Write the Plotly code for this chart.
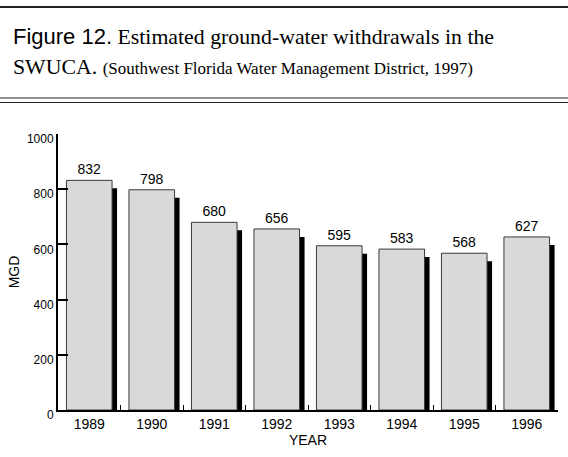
import plotly.graph_objects as go

# Ground-water withdrawals, SWUCA (MGD)
years = ["1989", "1990", "1991", "1992", "1993", "1994", "1995", "1996"]
withdrawals = [832, 798, 680, 656, 595, 583, 568, 627]

SANS = "Liberation Sans, Arial, sans-serif"
SERIF = "Liberation Serif, Times New Roman, serif"

W, H = 568, 457
L, R, T, B = 58, 10, 134, 47
plot_w, plot_h = W - L - R, H - T - B


def px_x(x):
    return (x - L) / plot_w


def px_y(y):
    return 1 + (T - y) / plot_h


bar_w = 0.73
shadow_dx = 0.08          # ~5px to the right
shadow_drop = 29          # ~8px lower, in MGD units

fig = go.Figure()

# black drop shadow behind each bar
fig.add_trace(go.Bar(
    x=years, y=[v - shadow_drop for v in withdrawals],
    width=bar_w, offset=-bar_w / 2 + shadow_dx,
    marker=dict(color="black", line=dict(width=0)),
    hoverinfo="skip", showlegend=False,
))

fig.add_trace(go.Bar(
    x=years, y=withdrawals,
    width=bar_w, offset=-bar_w / 2,
    marker=dict(color="#d9d9d9", line=dict(color="#3a3a3a", width=1)),
    text=[str(v) for v in withdrawals], textposition="outside",
    textfont=dict(family=SANS, size=14, color="black"),
    cliponaxis=False, showlegend=False,
))

fig.update_layout(
    width=W, height=H,
    margin=dict(l=L, r=R, t=T, b=B, autoexpand=False),
    barmode="overlay",
    plot_bgcolor="white", paper_bgcolor="white",
    font=dict(family=SANS, color="black"),
    xaxis=dict(
        type="category", range=[-0.5, 7.5], tickson="boundaries",
        ticks="inside", ticklen=5, tickwidth=1, tickcolor="black",
        showline=True, linecolor="black", linewidth=2,
        showgrid=False, zeroline=False, automargin=False,
        tickfont=dict(size=14),
        title=dict(text="YEAR", font=dict(size=14), standoff=4),
    ),
    yaxis=dict(
        range=[0, 1000], tickvals=[0, 200, 400, 600, 800, 1000],
        ticks="inside", ticklen=10, tickwidth=1.5, tickcolor="black",
        showline=True, linecolor="black", linewidth=2,
        showgrid=False, zeroline=False, automargin=False,
        tickfont=dict(size=12), ticklabelshift=5,
        title=dict(text="MGD", font=dict(size=14), standoff=4),
    ),
)

# caption
fig.add_annotation(
    xref="paper", yref="paper", x=px_x(11), y=px_y(36),
    xanchor="left", yanchor="middle", showarrow=False,
    text=f"<span style='font-family:{SANS};font-size:22px'>Figure 12.</span> Estimated ground-water withdrawals in the",
    font=dict(family=SERIF, size=21.8, color="black"),
)
fig.add_annotation(
    xref="paper", yref="paper", x=px_x(11), y=px_y(67.5),
    xanchor="left", yanchor="middle", showarrow=False,
    text="SWUCA. <span style='font-size:17px'>(Southwest Florida Water Management District, 1997)</span>",
    font=dict(family=SERIF, size=21.8, color="black"),
)

# horizontal rules
for y, lw in [(7, 2), (98, 1.2), (102.5, 1.2)]:
    fig.add_shape(type="line", xref="paper", yref="paper",
                  x0=px_x(0), x1=px_x(W), y0=px_y(y), y1=px_y(y),
                  line=dict(color="#222", width=lw))

# drop the default 8px body margin so the figure sits at the page corner
fig.write_html("out.html", config={"displayModeBar": False},
               post_script="document.body.style.margin='0';")
